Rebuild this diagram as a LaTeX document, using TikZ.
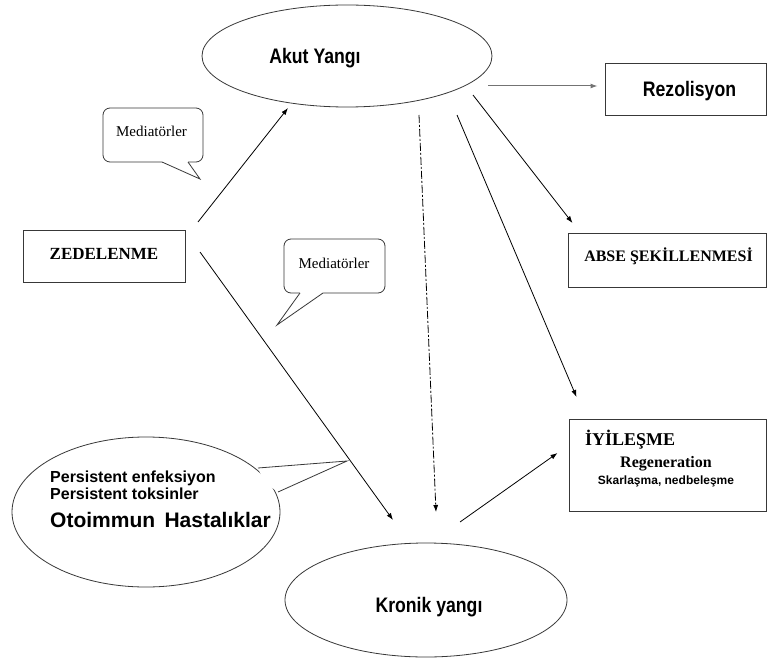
\documentclass[tikz,border=0pt]{standalone}
\usepackage{fontspec}
\setmainfont{Liberation Serif}
\newfontfamily\sansn{Liberation Sans}[FakeStretch=0.84]
\newfontfamily\sansr{Liberation Sans}
\usetikzlibrary{shapes.geometric,arrows.meta,calc}
\begin{document}
\begin{tikzpicture}[x=1pt,y=-1pt,
  shapeline/.style={draw=black!78, line width=0.8pt},
  boxnode/.style={shapeline, rectangle, inner sep=0pt},
  ellnode/.style={shapeline, ellipse, inner sep=0pt},
  bubble/.style={shapeline, rectangle, rounded corners=7pt, inner sep=0pt, fill=white},
  arr/.style={draw=black, line width=0.8pt, -{Latex[length=7pt,width=5pt]}},
  txt/.style={anchor=base, inner sep=0pt},
  txtl/.style={anchor=base west, inner sep=0pt}]
\useasboundingbox (0,0) rectangle (768,658);
\fill[white] (0,0) rectangle (768,658);

% ellipses
\node[ellnode, minimum width=290pt, minimum height=102pt] (akut) at (347,56) {};
\node[txt, font=\sansn\bfseries\fontsize{21}{24}\selectfont] (akutt) at (315,64) {Akut Yangı};

\node[ellnode, minimum width=282pt, minimum height=114pt] (kronik) at (426,600) {};
\node[txt, font=\sansn\bfseries\fontsize{21}{24}\selectfont] (kronikt) at (429,612.5) {Kronik yangı};

% boxes
\node[boxnode, minimum width=162pt, minimum height=52pt] (zed) at (104,256) {};
\node[txt, font=\bfseries\fontsize{17}{20}\selectfont] (zedt) at (104,259.5) {ZEDELENME};

\node[boxnode, minimum width=161pt, minimum height=52pt] (rez) at (685.5,89) {};
\node[txt, font=\sansn\bfseries\fontsize{21}{24}\selectfont] (rezt) at (689.5,96.5) {Rezolisyon};

\node[boxnode, minimum width=198pt, minimum height=54pt] (abse) at (667,260) {};
\node[txt, font=\bfseries\fontsize{16}{19}\selectfont] (abset) at (668.5,261) {ABSE ŞEKİLLENMESİ};

\node[boxnode, minimum width=197pt, minimum height=92pt] (iyi) at (667.5,465) {};
\node[txtl, font=\bfseries\fontsize{18}{21}\selectfont] (iyi1) at (585,445) {İYİLEŞME};
\node[txt, font=\bfseries\fontsize{16}{19}\selectfont] (iyi2) at (666,467) {Regeneration};
\node[txt, font=\sansr\bfseries\fontsize{12}{14}\selectfont] (iyi3) at (666,484.5) {Skarlaşma, nedbeleşme};

% callout bubbles
\node[bubble, minimum width=100pt, minimum height=54pt] (m1) at (153,135) {};
\fill[white] ($(m1)+(9,24)$) -- ($(m1)+(9,27)$) -- ($(m1)+(47,44)$) -- ($(m1)+(35,27)$) -- ($(m1)+(35,24)$) -- cycle;
\draw[shapeline] ($(m1)+(9,27)$) -- ($(m1)+(47,44)$) -- ($(m1)+(35,27)$);
\node[txt, font=\fontsize{15}{18}\selectfont] (m1t) at (151.5,136.5) {Mediatörler};

\node[bubble, minimum width=101pt, minimum height=54pt] (m2) at (334.5,266) {};
\fill[white] ($(m2)+(-34.5,24)$) -- ($(m2)+(-34.5,27)$) -- ($(m2)+(-57.5,59)$) -- ($(m2)+(-11.5,27)$) -- ($(m2)+(-11.5,24)$) -- cycle;
\draw[shapeline] ($(m2)+(-34.5,27)$) -- ($(m2)+(-57.5,59)$) -- ($(m2)+(-11.5,27)$);
\node[txt, font=\fontsize{15}{18}\selectfont] (m2t) at (334,268.5) {Mediatörler};

\node[ellnode, fill=white, minimum width=268pt, minimum height=150pt] (pers) at (146,512) {};
\fill[white] ($(pers)+(112,-44)$) -- ($(pers)+(201,-51)$) -- ($(pers)+(132,-20)$) -- ($(pers)+(118,-30)$) -- cycle;
\draw[shapeline] ($(pers)+(112,-44)$) -- ($(pers)+(201,-51)$) -- ($(pers)+(132,-20)$);
\node[txtl, font=\sansr\bfseries\fontsize{16}{19}\selectfont] (p1) at (50,482) {Persistent enfeksiyon};
\node[txtl, font=\sansr\bfseries\fontsize{16}{19}\selectfont] (p2) at (50,499) {Persistent toksinler};
\node[txtl, font=\sansr\bfseries\fontsize{21}{24}\selectfont] (p3) at (50,527) {Otoimmun\, Hastalıklar};

% connectors
\draw[arr] ($(zed)+(94,-34)$) -- ($(akut)+(-59,52)$);
\draw[arr] ($(zed)+(96,-4)$) -- ($(kronik)+(-33,-80)$);
\draw[arr, draw=black!55, line width=1pt] ($(akut)+(141,30)$) -- ($(rez)+(-88,-3)$);
\draw[arr] ($(akut)+(126,39)$) -- ($(abse)+(-94.5,-37)$);
\draw[arr] ($(akut)+(110,59)$) -- ($(iyi)+(-91,-68)$);
\draw[arr, dash pattern=on 8pt off 2pt on 2pt off 2pt] ($(akut)+(72,59)$) -- ($(kronik)+(10,-88)$);
\draw[arr] ($(kronik)+(34,-78)$) -- ($(iyi)+(-110,-12)$);
\end{tikzpicture}
\end{document}
